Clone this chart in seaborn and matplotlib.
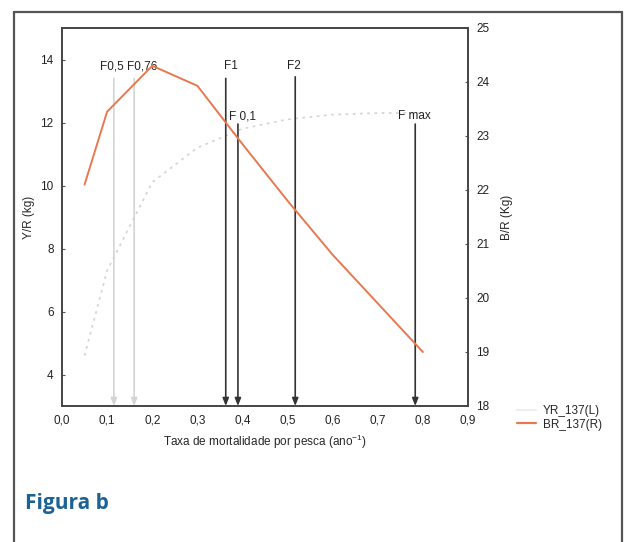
import numpy as np
import pandas as pd
import seaborn as sns
import matplotlib.pyplot as plt
from matplotlib.lines import Line2D

# fishing mortality F (1/year)
f_values = [0.05, 0.1, 0.2, 0.3, 0.4, 0.5, 0.6, 0.7, 0.8]
# yield per recruit (left axis, kg)
yr_values = [4.6, 7.3, 10.1, 11.2, 11.8, 12.1, 12.25, 12.3, 12.3]
# biomass per recruit (right axis, kg)
br_values = [22.1, 23.45, 24.3, 23.93, 22.85, 21.8, 20.8, 19.9, 19.0]

# reference points
ref_names = ['F0,5', 'F0,76', 'F1', 'F 0,1', 'F2', 'F max']
ref_f = [0.115, 0.16, 0.363, 0.39, 0.517, 0.783]
ref_top = [13.4, 13.4, 13.4, 11.95, 13.45, 11.95]
ref_colors = ['#d4d4d4', '#d4d4d4', '#333333', '#333333', '#333333', '#333333']

df = pd.DataFrame({'F': f_values, 'YR': yr_values, 'BR': br_values})

sns.set_style('white')
plt.rcParams['font.family'] = ['Liberation Sans', 'DejaVu Sans']

fig = plt.figure(figsize=(6.27, 5.42), dpi=100)
ax = fig.add_axes([62 / 627, 1 - 406 / 542, (468 - 62) / 627, (406 - 28) / 542])
ax2 = ax.twinx()

sns.lineplot(data=df, x='F', y='YR', ax=ax, color='#d6d6d6', lw=1.3,
             linestyle=(0, (1.5, 2.5)), label='YR_137(L)', legend=False)
sns.lineplot(data=df, x='F', y='BR', ax=ax2, color='#e8784f', lw=1.4,
             label='BR_137(R)', legend=False)

for name, x, top, c in zip(ref_names, ref_f, ref_top, ref_colors):
    ax.annotate('', xy=(x, 3.0), xytext=(x, top),
                arrowprops=dict(arrowstyle='-|>,head_length=0.45,head_width=0.18',
                                color=c, lw=1.2, shrinkA=0, shrinkB=0))

lab = dict(fontsize=8.5, color='#222222', va='center')
ax.text(0.084, 13.78, 'F0,5', ha='left', **lab)
ax.text(0.144, 13.78, 'F0,76', ha='left', **lab)
ax.text(0.375, 13.78, 'F1', ha='center', **lab)
ax.text(0.515, 13.78, 'F2', ha='center', **lab)
ax.text(0.37, 12.2, 'F 0,1', ha='left', **lab)
ax.text(0.745, 12.2, 'F max', ha='left', **lab)

ax.set_xlim(0, 0.9)
ax.set_ylim(3, 15)
ax2.set_ylim(18, 25)

xt = np.arange(0, 0.91, 0.1)
ax.set_xticks(xt)
ax.set_xticklabels([f'{v:.1f}'.replace('.', ',') for v in xt], fontsize=8.5)
ax.set_yticks([4, 6, 8, 10, 12, 14])
ax.set_yticklabels(['4', '6', '8', '10', '12', '14'], fontsize=8.5)
ax2.set_yticks(range(18, 26))
ax2.set_yticklabels([str(v) for v in range(18, 26)], fontsize=8.5)

ax.set_xlabel('Taxa de mortalidade por pesca (ano$^{\\mathregular{-1}}$)', fontsize=8.5, labelpad=5)
ax.set_ylabel('Y/R (kg)', fontsize=8.5, labelpad=4)
ax2.set_ylabel('B/R (Kg)', fontsize=8.5, labelpad=8)

for a in (ax, ax2):
    a.tick_params(direction='in', length=2, width=0.8, pad=6, colors='#555555', labelcolor='#222222')
    for s in a.spines.values():
        s.set_color('#444444')
        s.set_linewidth(1.2)
ax.grid(False)
ax2.grid(False)

handles = [Line2D([], [], color='#eeeeee', lw=1.6),
           Line2D([], [], color='#e8784f', lw=1.6)]
fig.legend(handles, ['YR_137(L)', 'BR_137(R)'], loc='center left',
           bbox_to_anchor=(517 / 627, 1 - 418 / 542), frameon=False,
           borderaxespad=0, borderpad=0,
           fontsize=8.5, handlelength=1.6, handletextpad=0.6, labelspacing=0.1)

# outer frame (left, top, right only)
fc = '#555555'
fig.add_artist(Line2D([14 / 627, 14 / 627], [0, 1 - 12 / 542], transform=fig.transFigure, color=fc, lw=1.6))
fig.add_artist(Line2D([14 / 627, 622 / 627], [1 - 12 / 542, 1 - 12 / 542], transform=fig.transFigure, color=fc, lw=1.6))
fig.add_artist(Line2D([622 / 627, 622 / 627], [0, 1 - 12 / 542], transform=fig.transFigure, color=fc, lw=1.6))

fig.text(25 / 627, 1 - 503 / 542, 'Figura b', fontsize=15, fontweight='bold',
         color='#1b6295', family=['Open Sans', 'DejaVu Sans'], va='center', ha='left')

fig.savefig('out.png', dpi=100)
